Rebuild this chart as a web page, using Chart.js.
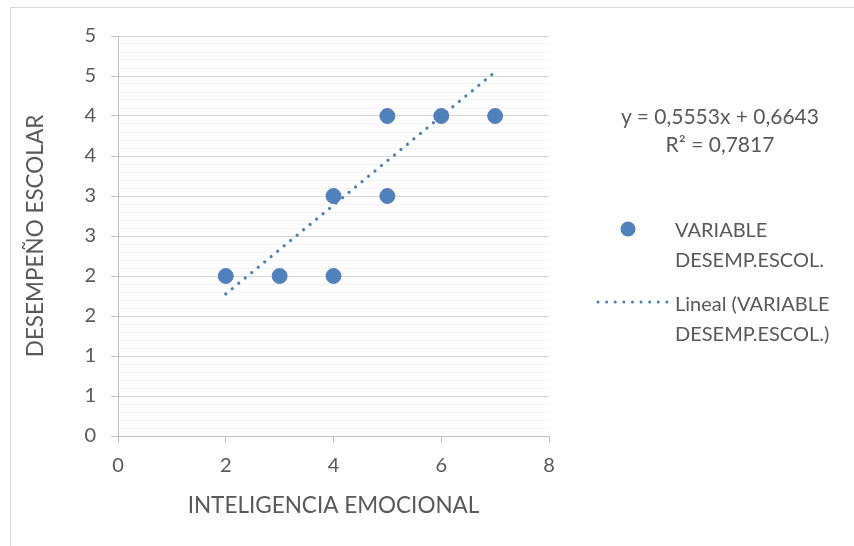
<!DOCTYPE html>
<html>
<head>
<meta charset="utf-8">
<script src="https://cdn.jsdelivr.net/npm/chart.js@4.4.0/dist/chart.umd.min.js"></script>
<style>
    html, body { margin: 0; padding: 0; background: #fff; overflow: hidden; }
    #wrap { position: relative; width: 854px; height: 546px; font-family: Lato, 'Open Sans', sans-serif; color: #595959; }
    #frame { position: absolute; left: 10px; top: 7px; width: 900px; height: 600px; border: 1px solid #d9d9d9; }
    #chart { position: absolute; left: 0; top: 0; }
    #ecuacion { position: absolute; left: 600px; top: 102px; width: 240px; text-align: center; font-size: 21px; line-height: 28px; }
    .leyenda { position: absolute; left: 675px; font-size: 20px; line-height: 30px; }
    .marca { position: absolute; }
</style>
</head>
<body>
<div id="wrap">
    <div id="frame"></div>
    <canvas id="chart" width="854" height="546"></canvas>
    <div id="ecuacion"></div>
    <svg class="marca" style="left:618px; top:219px" width="20" height="20">
        <circle cx="10" cy="10" r="7.5" fill="#4f81bd"></circle>
    </svg>
    <div class="leyenda" id="ley-puntos" style="top:214px"></div>
    <svg class="marca" style="left:594px; top:297px" width="80" height="10">
        <line x1="4" y1="5" x2="74" y2="5" stroke="#4a7ebb" stroke-width="3" stroke-linecap="round" stroke-dasharray="0.01 8.6"></line>
    </svg>
    <div class="leyenda" id="ley-tendencia" style="top:288px"></div>
</div>
<script>
// Datos
const inteligencia = [2, 3, 4, 4, 5, 5, 6, 7];
const desempeno = [2, 2, 2, 3, 3, 4, 4, 4];

// Línea de tendencia (ecuación mostrada en el gráfico)
const pendiente = 0.5553;
const intercepto = 0.6643;
const r2 = 0.7817;
const tendenciaX = [2, 7];

const xTicks = [0, 2, 4, 6, 8];
const serieNombre = 'VARIABLE DESEMP.ESCOL.';
const tituloX = 'INTELIGENCIA EMOCIONAL';
const tituloY = 'DESEMPEÑO ESCOLAR';

const coma = (n) => n.toFixed(4).replace('.', ',');
const esMayor = (v) => Math.abs(v * 2 - Math.round(v * 2)) < 1e-6;

document.getElementById('ecuacion').innerHTML =
    `y = ${coma(pendiente)}x + ${coma(intercepto)}<br>R² = ${coma(r2)}`;
document.getElementById('ley-puntos').innerHTML = 'VARIABLE<br>DESEMP.ESCOL.';
document.getElementById('ley-tendencia').innerHTML = 'Lineal (VARIABLE<br>DESEMP.ESCOL.)';

Chart.defaults.font.family = 'Lato, "Open Sans", sans-serif';
Chart.defaults.color = '#595959';

const puntos = inteligencia.map((x, i) => ({ x, y: desempeno[i] }));
const tendencia = tendenciaX.map(x => ({ x, y: pendiente * x + intercepto }));

new Chart(document.getElementById('chart').getContext('2d'), {
    type: 'scatter',
    data: {
        datasets: [
            {
                type: 'line',
                label: 'Lineal (' + serieNombre + ')',
                data: tendencia,
                borderColor: '#4a7ebb',
                borderWidth: 3.2,
                borderDash: [0.01, 8.4],
                borderCapStyle: 'round',
                pointRadius: 0,
                fill: false,
                order: 0
            },
            {
                label: serieNombre,
                data: puntos,
                backgroundColor: '#4f81bd',
                borderColor: '#4f81bd',
                pointRadius: 7.5,
                order: 1
            }
        ]
    },
    options: {
        responsive: false,
        animation: false,
        devicePixelRatio: 1,
        layout: { padding: { top: 36, right: 305, bottom: 0, left: 0 } },
        plugins: {
            legend: { display: false },
            tooltip: { enabled: false }
        },
        scales: {
            x: {
                type: 'linear',
                min: 0,
                max: 8,
                afterBuildTicks: (s) => { s.ticks = xTicks.map(v => ({ value: v })); },
                afterFit: (s) => { s.height = 110; },
                grid: { drawOnChartArea: false, tickLength: 7, color: '#bfbfbf' },
                border: { color: '#bfbfbf' },
                ticks: { font: { size: 20 }, padding: 11 },
                title: {
                    display: true,
                    text: tituloX,
                    font: { size: 22.5 },
                    padding: { top: 0, bottom: 27 }
                }
            },
            y: {
                min: 0,
                max: 5,
                afterFit: (s) => { s.width = 118; },
                grid: {
                    tickLength: 7,
                    color: (ctx) => esMayor(ctx.tick.value) ? '#d6d6d6' : '#f2f2f2',
                    tickColor: (ctx) => esMayor(ctx.tick.value) ? '#bfbfbf' : 'rgba(0,0,0,0)'
                },
                border: { color: '#bfbfbf' },
                ticks: {
                    stepSize: 0.1,
                    autoSkip: false,
                    font: { size: 20 },
                    padding: 15,
                    callback: (v) => esMayor(v) ? String(Math.round(v)) : ''
                },
                title: {
                    display: true,
                    text: tituloY,
                    font: { size: 22.5 },
                    padding: { top: 22, bottom: 0 }
                }
            }
        }
    }
});
</script>
</body>
</html>
